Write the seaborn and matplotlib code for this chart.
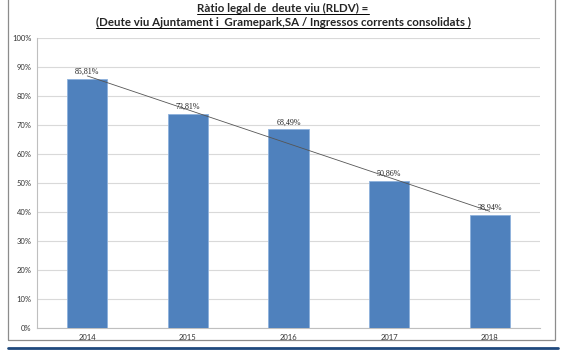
import numpy as np
import pandas as pd
import matplotlib
matplotlib.use("Agg")
import matplotlib.pyplot as plt
import seaborn as sns
from matplotlib.lines import Line2D
from matplotlib.patches import Rectangle

years = ["2014", "2015", "2016", "2017", "2018"]
ratio = [85.81, 73.81, 68.49, 50.86, 38.94]
yticks = [0, 10, 20, 30, 40, 50, 60, 70, 80, 90, 100]

title1 = "Ràtio legal de  deute viu (RLDV) ="
title2 = "(Deute viu Ajuntament i  Gramepark,SA / Ingressos corrents consolidats )"

sns.set_style("white")
plt.rcParams["font.family"] = ["Lato", "DejaVu Sans"]

df = pd.DataFrame({"year": years, "ratio": ratio})

fig = plt.figure(figsize=(5.66, 3.56), dpi=100)
ax = fig.add_axes([37 / 566, 1 - 328 / 356, (540 - 37) / 566, (328 - 38) / 356])

sns.barplot(data=df, x="year", y="ratio", color="#4f81bd", width=0.4,
            saturation=1, ax=ax, edgecolor="#8eb1dc", linewidth=0.6, zorder=3)

# linear trend line
xs = np.arange(len(ratio))
k, b = np.polyfit(xs, ratio, 1)
ax.plot(xs, k * xs + b, color="#555555", lw=0.6, zorder=4)

for i, v in enumerate(ratio):
    ax.text(i, v + 1.0, f"{v:.2f}%".replace(".", ","), ha="center", va="bottom",
            fontsize=5.8, color="#222222", family="Liberation Serif", zorder=5)

ax.set_ylim(0, 100)
ax.set_xlim(-0.5, len(years) - 0.5)
ax.set_yticks(yticks)
ax.set_yticklabels([f"{t}%" for t in yticks])
ax.yaxis.grid(True, color="#d9d9d9", lw=0.8, zorder=0)
ax.tick_params(axis="both", labelsize=5.5, colors="#333333", length=0, pad=4)
ax.set_xlabel("")
ax.set_ylabel("")
for s in ["top", "right"]:
    ax.spines[s].set_visible(False)
ax.spines["left"].set_color("#bfbfbf")
ax.spines["bottom"].set_color("#bfbfbf")
ax.spines["left"].set_linewidth(0.8)
ax.spines["bottom"].set_linewidth(0.8)

t1 = fig.text(0.5, 1 - 8.5 / 356, title1, ha="center", va="center", fontsize=8.3,
              fontweight="bold")
t2 = fig.text(0.5, 1 - 22.5 / 356, title2, ha="center", va="center", fontsize=8.3,
              fontweight="bold")

# underline titles at their drawn width
renderer = fig.canvas.get_renderer()
for t, y in [(t1, 13.5), (t2, 28)]:
    bb = t.get_window_extent(renderer).transformed(fig.transFigure.inverted())
    fig.add_artist(Line2D([bb.x0, bb.x1], [1 - y / 356] * 2, color="black", lw=0.7))

# outer chart frame and blue rule
fig.add_artist(Rectangle((8 / 566, 1 - 340 / 356), (555 - 8) / 566, 360 / 356,
                         fill=False, edgecolor="#8c8c8c", lw=0.9))
fig.add_artist(Line2D([8 / 566, 558 / 566], [1 - 348 / 356] * 2, color="#1f497d", lw=2))

fig.savefig("out.png", dpi=100)
